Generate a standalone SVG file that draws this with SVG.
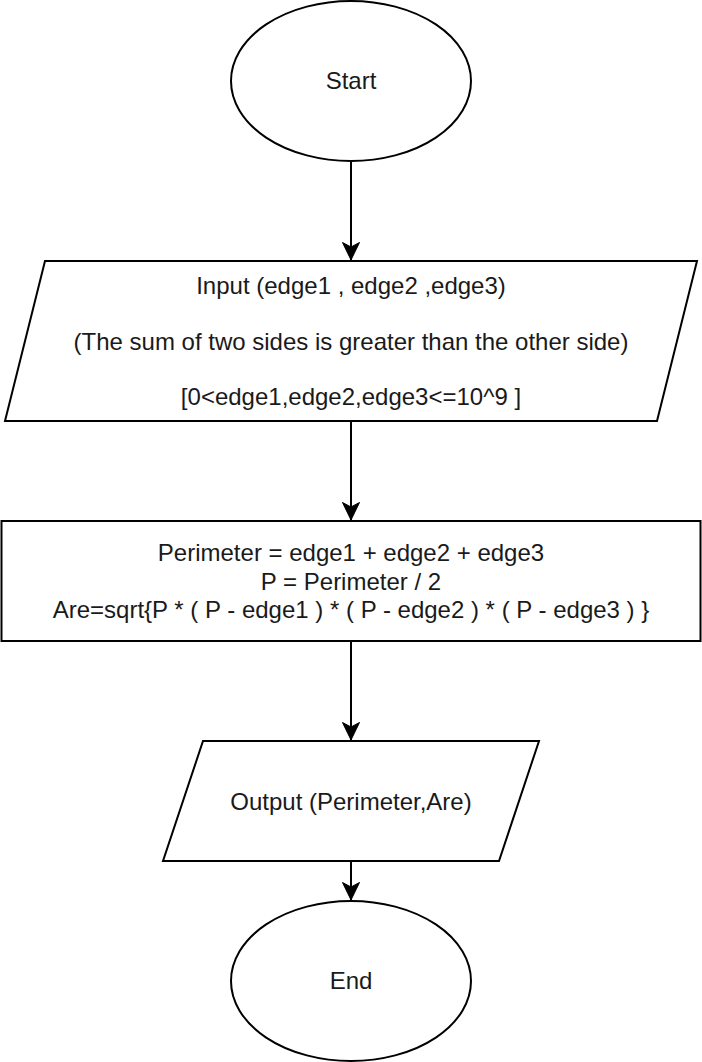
<svg xmlns="http://www.w3.org/2000/svg" width="702" height="1062" viewBox="0 0 702 1062">
  <style>
    .shape { fill: #ffffff; stroke: #000000; stroke-width: 2; }
    .edge { fill: none; stroke: #000000; stroke-width: 2; }
    .lbl { font-family: "Liberation Sans", Arial, Helvetica, sans-serif; font-size: 24px; fill: #1a1a1a; text-anchor: middle; }
  </style>
  <defs>
    <marker id="arrow" markerUnits="userSpaceOnUse" viewBox="-18 -9 19 18" refX="0" refY="0" markerWidth="19" markerHeight="18" orient="auto">
      <path d="M0,0 L-17.5,-8.5 L-13,0 L-17.5,8.5 Z" fill="#000000" stroke="#000000" stroke-width="1" stroke-linejoin="miter"/>
    </marker>
  </defs>
  <rect x="0" y="0" width="702" height="1062" fill="#ffffff"/>
  <g id="connectors">
    <line class="edge" x1="351" y1="161" x2="351" y2="260" marker-end="url(#arrow)"/>
    <line class="edge" x1="351" y1="421" x2="351" y2="520" marker-end="url(#arrow)"/>
    <line class="edge" x1="351" y1="641" x2="351" y2="740" marker-end="url(#arrow)"/>
    <line class="edge" x1="351" y1="861" x2="351" y2="900" marker-end="url(#arrow)"/>
  </g>
  <g id="start">
    <ellipse class="shape" cx="351" cy="81" rx="120" ry="80"/>
    <text class="lbl" x="351" y="89">Start</text>
  </g>
  <g id="input">
    <polygon class="shape" points="45,261 697,261 657,421 5,421"/>
    <text class="lbl" x="351" y="294">Input (edge1 , edge2 ,edge3)</text>
    <text class="lbl" x="351" y="349.5">(The sum of two sides is greater than the other side)</text>
    <text class="lbl" x="351" y="405">[0&lt;edge1,edge2,edge3&lt;=10^9 ]</text>
  </g>
  <g id="process">
    <rect class="shape" x="1.5" y="521" width="699" height="120"/>
    <text class="lbl" x="351" y="561">Perimeter = edge1 + edge2 + edge3</text>
    <text class="lbl" x="351" y="589.5">P = Perimeter / 2</text>
    <text class="lbl" x="351" y="618">Are=sqrt{P * ( P - edge1 ) * ( P - edge2 ) * ( P - edge3 ) }</text>
  </g>
  <g id="output">
    <polygon class="shape" points="203,741 539,741 499,861 163,861"/>
    <text class="lbl" x="351" y="809.5">Output (Perimeter,Are)</text>
  </g>
  <g id="end">
    <ellipse class="shape" cx="351" cy="981" rx="120" ry="80"/>
    <text class="lbl" x="351" y="989">End</text>
  </g>
</svg>
